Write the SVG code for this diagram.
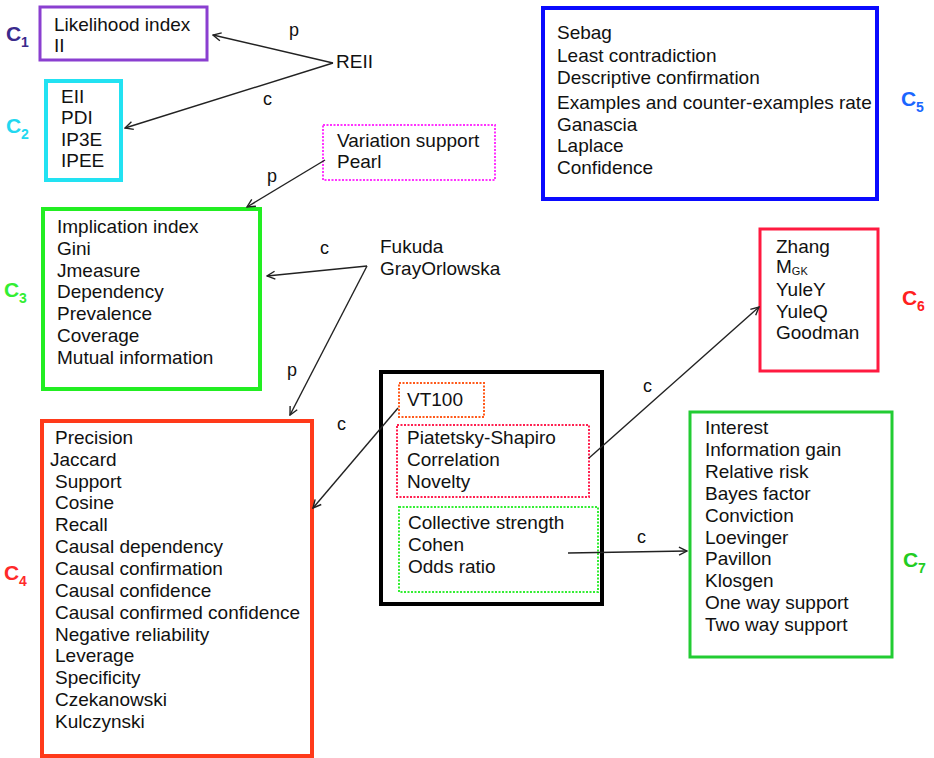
<svg xmlns="http://www.w3.org/2000/svg" width="934" height="758" viewBox="0 0 934 758">
<style>
text{font-family:"Liberation Sans",Arial,sans-serif;font-size:19px;fill:#111}
.lbl{font-size:21px;font-weight:bold}
.sub{font-size:14px;font-weight:bold}
.box{fill:none}
.dot{fill:none;stroke-width:2;stroke-dasharray:2 1.5}
.edge{fill:none;stroke:#222;stroke-width:1.4}
.el{font-size:18px}
</style>
<defs>
<marker id="ah" viewBox="0 0 10 10" refX="9" refY="5" markerWidth="10" markerHeight="10" markerUnits="userSpaceOnUse" orient="auto">
<path d="M1,1 L9,5 L1,9" fill="none" stroke="#222" stroke-width="1.4"/>
</marker>
</defs>
<rect width="934" height="758" fill="#fff"/>

<g id="C1">
<rect class="box" x="40" y="7" width="167" height="53" stroke="#8a3fd0" stroke-width="3"/>
<text x="54" y="31">Likelihood index</text>
<text x="54" y="52">II</text>
<text class="lbl" x="6" y="41" style="fill:#3a2a8c">C</text><text class="sub" x="21" y="47" style="fill:#3a2a8c">1</text>
</g>

<g id="C2">
<rect class="box" x="46" y="81" width="75" height="99" stroke="#22e2f2" stroke-width="4"/>
<text x="61" y="103">EII</text>
<text x="61" y="124">PDI</text>
<text x="61" y="146">IP3E</text>
<text x="61" y="167">IPEE</text>
<text class="lbl" x="6" y="133" style="fill:#22d8f0">C</text><text class="sub" x="21" y="139" style="fill:#22d8f0">2</text>
</g>

<g id="REII"><text x="336" y="68">REII</text></g>

<g id="VS">
<rect class="dot" x="323" y="125" width="172" height="55" stroke="#ff33ff"/>
<text x="337" y="147">Variation support</text>
<text x="337" y="168">Pearl</text>
</g>

<g id="C3">
<rect class="box" x="43" y="209" width="217" height="180" stroke="#22ee22" stroke-width="4"/>
<text x="57" y="233">Implication index</text>
<text x="57" y="255">Gini</text>
<text x="57" y="277">Jmeasure</text>
<text x="57" y="298">Dependency</text>
<text x="57" y="320">Prevalence</text>
<text x="57" y="342">Coverage</text>
<text x="57" y="364">Mutual information</text>
<text class="lbl" x="4" y="297" style="fill:#33ee33">C</text><text class="sub" x="19" y="303" style="fill:#33ee33">3</text>
</g>

<g id="FG">
<text x="380" y="253">Fukuda</text>
<text x="380" y="275">GrayOrlowska</text>
</g>

<g id="C4">
<rect class="box" x="42" y="421" width="270" height="335" stroke="#ff3a1a" stroke-width="4"/>
<text x="55" y="444">Precision</text>
<text x="50" y="466">Jaccard</text>
<text x="55" y="488">Support</text>
<text x="55" y="509">Cosine</text>
<text x="55" y="531">Recall</text>
<text x="55" y="553">Causal dependency</text>
<text x="55" y="575">Causal confirmation</text>
<text x="55" y="597">Causal confidence</text>
<text x="55" y="619">Causal confirmed confidence</text>
<text x="55" y="641">Negative reliability</text>
<text x="55" y="662">Leverage</text>
<text x="55" y="684">Specificity</text>
<text x="55" y="706">Czekanowski</text>
<text x="55" y="728">Kulczynski</text>
<text class="lbl" x="4" y="580" style="fill:#ff2a2a">C</text><text class="sub" x="19" y="586" style="fill:#ff2a2a">4</text>
</g>

<g id="Center">
<rect class="box" x="381" y="372" width="221" height="232" stroke="#000" stroke-width="4"/>
</g>
<g id="VT100">
<rect class="dot" x="399" y="383" width="85" height="34" stroke="#ff5a1a"/>
<text x="407" y="406">VT100</text>
</g>
<g id="PS">
<rect class="dot" x="397" y="425" width="192" height="72" stroke="#ff2050"/>
<text x="407" y="444">Piatetsky-Shapiro</text>
<text x="407" y="466">Correlation</text>
<text x="407" y="488">Novelty</text>
</g>
<g id="CS">
<rect class="dot" x="399" y="507" width="199" height="85" stroke="#33ee33"/>
<text x="408" y="529">Collective strength</text>
<text x="408" y="551">Cohen</text>
<text x="408" y="573">Odds ratio</text>
</g>

<g id="C5">
<rect class="box" x="543" y="8" width="334" height="191" stroke="#0a0aff" stroke-width="4"/>
<text x="557" y="39">Sebag</text>
<text x="557" y="62">Least contradiction</text>
<text x="557" y="84">Descriptive confirmation</text>
<text x="557" y="109">Examples and counter-examples rate</text>
<text x="557" y="131">Ganascia</text>
<text x="557" y="152">Laplace</text>
<text x="557" y="174">Confidence</text>
<text class="lbl" x="901" y="106" style="fill:#1a66ff">C</text><text class="sub" x="916" y="112" style="fill:#1a66ff">5</text>
</g>

<g id="C6">
<rect class="box" x="760" y="229" width="118" height="142" stroke="#ff1a40" stroke-width="3"/>
<text x="776" y="253">Zhang</text>
<text x="776" y="273">M<tspan font-size="11" dy="2">GK</tspan></text>
<text x="776" y="296">YuleY</text>
<text x="776" y="318">YuleQ</text>
<text x="776" y="339">Goodman</text>
<text class="lbl" x="902" y="305" style="fill:#ff2020">C</text><text class="sub" x="917" y="311" style="fill:#ff2020">6</text>
</g>

<g id="C7">
<rect class="box" x="690" y="412" width="202" height="245" stroke="#22cc33" stroke-width="3"/>
<text x="705" y="434">Interest</text>
<text x="705" y="456">Information gain</text>
<text x="705" y="478">Relative risk</text>
<text x="705" y="500">Bayes factor</text>
<text x="705" y="522">Conviction</text>
<text x="705" y="544">Loevinger</text>
<text x="705" y="565">Pavillon</text>
<text x="705" y="587">Klosgen</text>
<text x="705" y="609">One way support</text>
<text x="705" y="631">Two way support</text>
<text class="lbl" x="903" y="567" style="fill:#22cc22">C</text><text class="sub" x="918" y="573" style="fill:#22cc22">7</text>
</g>

<g id="connectors">
<line class="edge" x1="333" y1="63" x2="213" y2="35" marker-end="url(#ah)"/>
<line class="edge" x1="333" y1="63" x2="125" y2="128" marker-end="url(#ah)"/>
<line class="edge" x1="325" y1="160" x2="247" y2="207" marker-end="url(#ah)"/>
<line class="edge" x1="367" y1="266" x2="267" y2="276" marker-end="url(#ah)"/>
<line class="edge" x1="367" y1="266" x2="290" y2="415" marker-end="url(#ah)"/>
<line class="edge" x1="398" y1="408" x2="313" y2="508" marker-end="url(#ah)"/>
<line class="edge" x1="589" y1="458" x2="759" y2="307" marker-end="url(#ah)"/>
<line class="edge" x1="568" y1="553" x2="687" y2="551" marker-end="url(#ah)"/>
<text class="el" x="289" y="36">p</text>
<text class="el" x="263" y="105">c</text>
<text class="el" x="267" y="182">p</text>
<text class="el" x="320" y="254">c</text>
<text class="el" x="287" y="376">p</text>
<text class="el" x="337" y="430">c</text>
<text class="el" x="643" y="392">c</text>
<text class="el" x="637" y="543">c</text>
</g>
</svg>
